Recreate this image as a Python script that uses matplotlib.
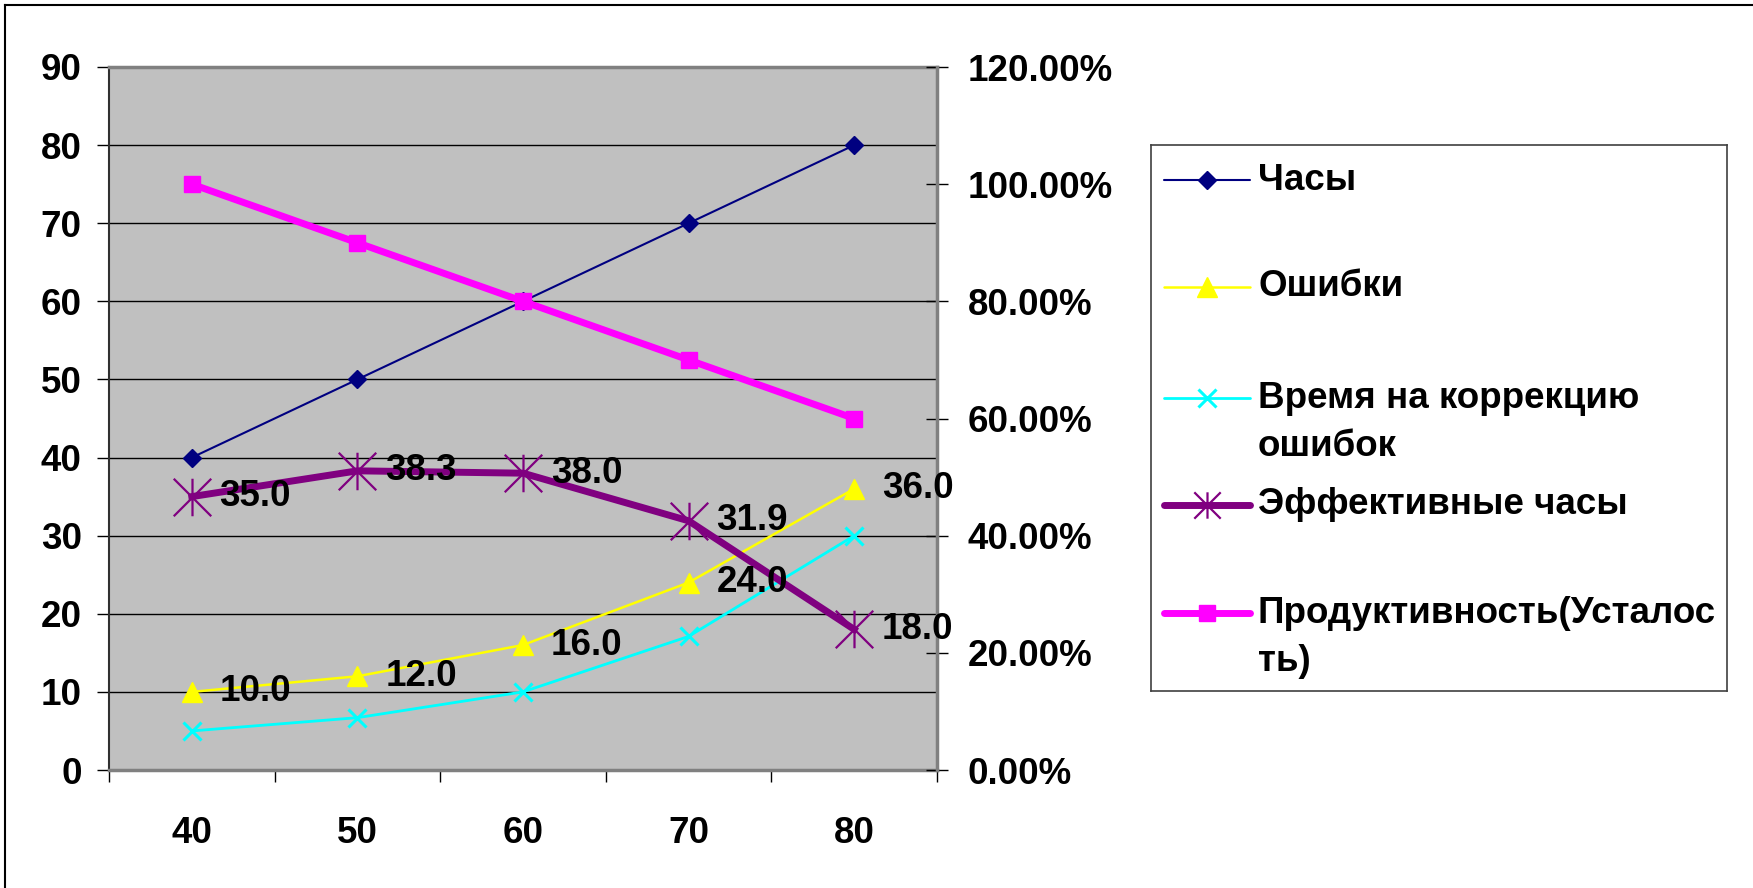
import matplotlib.pyplot as plt
from matplotlib.path import Path
from matplotlib.lines import Line2D

plt.rcParams['font.family'] = ['Liberation Sans', 'DejaVu Sans']
plt.rcParams['font.weight'] = 'bold'

# данные
hours = [40, 50, 60, 70, 80]
chasy = [40, 50, 60, 70, 80]
oshibki = [10.0, 12.0, 16.0, 24.0, 36.0]
korrekciya = [5.0, 6.7, 10.0, 17.1, 30.0]
effektivnye = [35.0, 38.3, 38.0, 31.9, 18.0]
produktivnost = [1.0, 0.9, 0.8, 0.7, 0.6]
names = ['Часы', 'Ошибки', 'Время на коррекцию\nошибок',
         'Эффективные часы', 'Продуктивность(Усталос\nть)']
left_ticks = list(range(0, 91, 10))
right_ticks = [0.0, 0.2, 0.4, 0.6, 0.8, 1.0, 1.2]

W, H = 1753, 888
FS = 26.5

# звездочка как в Excel
star = Path([(-1, -1), (1, 1), (-1, 1), (1, -1), (0, -1), (0, 1)],
            [Path.MOVETO, Path.LINETO] * 3)

styles = [
    dict(color='#000080', lw=1.5, marker='D', ms=9.5, mfc='#000080', mec='#000080'),
    dict(color='#FFFF00', lw=1.8, marker='^', ms=14, mfc='#FFFF00', mec='#FFFF00'),
    dict(color='#00FFFF', lw=2.0, marker='x', ms=13, mec='#00FFFF', mew=2.2),
    dict(color='#800080', lw=5.0, marker=star, ms=27, mec='#800080', mfc='none', mew=1.6),
    dict(color='#FF00FF', lw=5.0, marker='s', ms=12, mfc='#FF00FF', mec='#FF00FF'),
]

fig = plt.figure(figsize=(W / 100, H / 100), dpi=100)

# рамка диаграммы
fig.add_artist(Line2D([5 / W, 5 / W], [0, 1 - 5 / H], transform=fig.transFigure, color='black', lw=1.5))
fig.add_artist(Line2D([5 / W, 1], [1 - 5 / H, 1 - 5 / H], transform=fig.transFigure, color='black', lw=1.5))

pl, pr, pt, pb = 109, 937, 67, 770
ax = fig.add_axes([pl / W, 1 - pb / H, (pr - pl) / W, (pb - pt) / H])
ax.set_facecolor('#C0C0C0')
xs = [1, 2, 3, 4, 5]

ax.plot(xs, chasy, **styles[0])
ax.plot(xs, oshibki, **styles[1])
ax.plot(xs, korrekciya, **styles[2])
ax.plot(xs, effektivnye, **styles[3])

ax.set_xlim(0.5, 5.5)
ax.set_ylim(0, 90)
ax.set_yticks(left_ticks)
ax.set_yticklabels([str(v) for v in left_ticks])
ax.grid(axis='y', color='black', lw=1)
ax.set_axisbelow(True)
ax.set_xticks([0.5, 1.5, 2.5, 3.5, 4.5, 5.5])
ax.set_xticklabels([])
ax.set_xticks(xs, minor=True)
ax.set_xticklabels([str(h) for h in hours], minor=True)
ax.tick_params(axis='x', which='major', length=8.6, width=1, direction='out')
ax.tick_params(axis='x', which='minor', length=0, pad=33, labelsize=FS)
ax.tick_params(axis='y', length=8.6, width=1, direction='out', pad=11, labelsize=FS)
for s in ['top', 'bottom']:
    ax.spines[s].set_color('#808080')
    ax.spines[s].set_linewidth(2.5)
ax.spines['left'].set_color('#303030')
ax.spines['left'].set_linewidth(1.5)
ax.spines['right'].set_visible(False)

ax2 = ax.twinx()
ax2.plot(xs, produktivnost, **styles[4])
ax2.set_ylim(0, 1.2)
ax2.set_yticks(right_ticks)
ax2.set_yticklabels(['%.2f%%' % (v * 100) for v in right_ticks])
ax2.tick_params(axis='y', length=16.5, width=1, direction='inout', pad=14, labelsize=FS)
for s in ['left', 'top', 'bottom']:
    ax2.spines[s].set_visible(False)
ax2.spines['right'].set_color('#808080')
ax2.spines['right'].set_linewidth(2.5)

# подписи данных
for series in [oshibki, effektivnye]:
    for x, v in zip(xs, series):
        ax2.annotate('%.1f' % v, xy=(x, v), xycoords=ax.transData, xytext=(20, 0),
                     textcoords='offset points', ha='left', va='center',
                     fontsize=FS, fontweight='bold', zorder=5)

# легенда
ll, lr, lt, lb = 1151, 1727, 145, 691
lg = fig.add_axes([ll / W, 1 - lb / H, (lr - ll) / W, (lb - lt) / H])
lg.set_xlim(0, lr - ll)
lg.set_ylim(lb - lt, 0)
lg.set_xticks([])
lg.set_yticks([])
for s in lg.spines.values():
    s.set_color('#404040')
    s.set_linewidth(1.2)

rows = [35, 142, 253, 360, 468]
line_gap = 48
for name, st, y in zip(names, styles, rows):
    st = dict(st)
    if st['marker'] is star:
        st['ms'] = 19
    lg.plot([13, 99], [y, y], color=st.pop('color'), lw=st.pop('lw'),
            solid_capstyle='round', marker='None')
    lg.plot([56], [y], ls='none', **st)
    for i, part in enumerate(name.split('\n')):
        lg.text(107, y + i * line_gap, part, ha='left', va='center',
                fontsize=FS, fontweight='bold')

fig.savefig('out.png', dpi=100)
